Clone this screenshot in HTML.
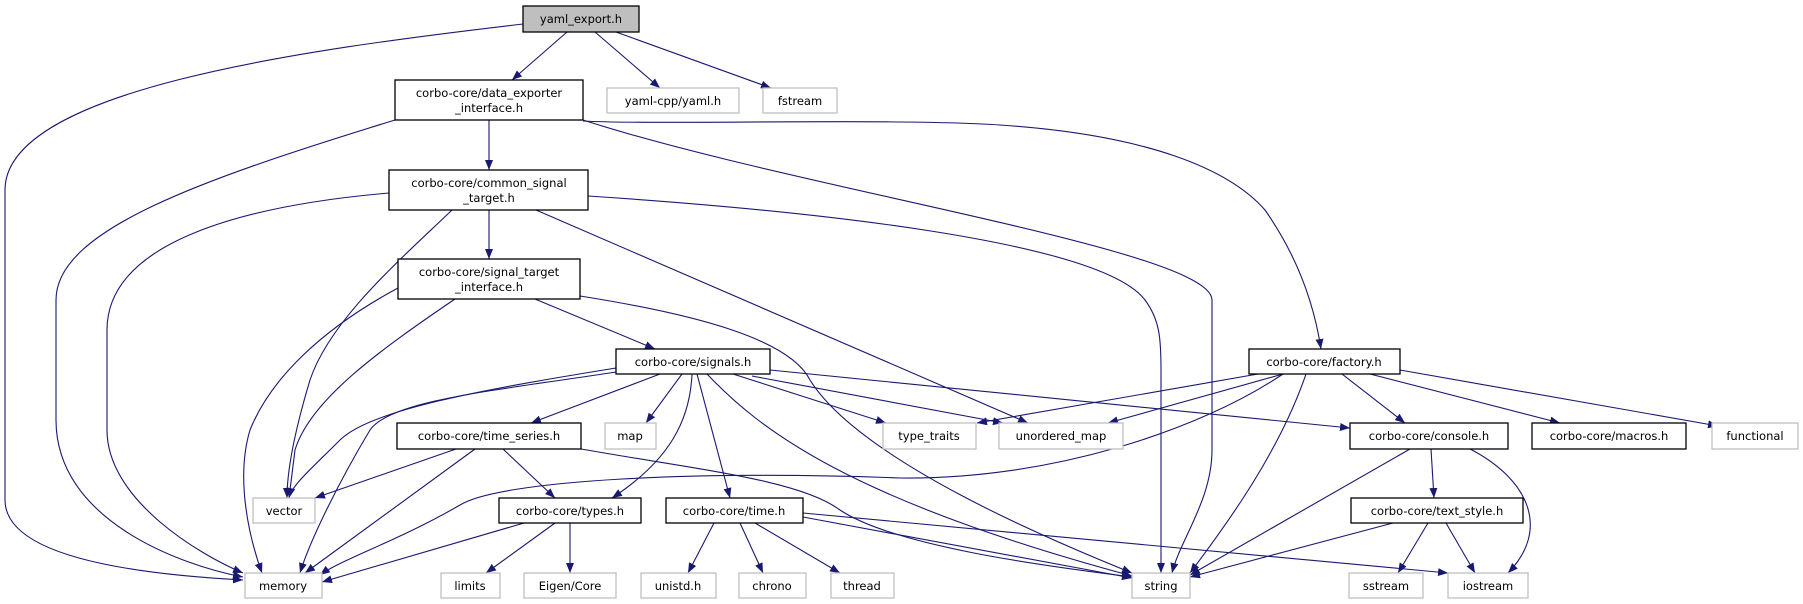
<!DOCTYPE html>
<html><head><meta charset="utf-8"><style>
html,body{margin:0;padding:0;background:#fff;}
svg{display:block;}
text{font-family:"DejaVu Sans","Liberation Sans",sans-serif;font-size:11.5px;fill:#000;text-anchor:middle;}
.n{fill:#fff;stroke:#000;stroke-width:1.3;}
.g{fill:#fff;stroke:#bfbfbf;stroke-width:1.3;}
.e{fill:none;stroke:#191970;stroke-width:1.1;marker-end:url(#a);}
</style></head><body>
<svg width="1803" height="604" viewBox="0 0 1803 604" xmlns="http://www.w3.org/2000/svg">
<defs><marker id="a" viewBox="0 0 10 8" refX="10" refY="4" markerWidth="10" markerHeight="8" markerUnits="userSpaceOnUse" orient="auto"><path d="M0,0 L10,4 L0,8 z" fill="#191970"/></marker></defs>

<!-- edges -->
<path class="e" d="M523,24 C300,50 5,90 5,190 L5,500 C5,560 150,575 243,580"/>
<path class="e" d="M567,32 L512,80"/>
<path class="e" d="M595,32 L660,88"/>
<path class="e" d="M616,32 L771,88"/>
<path class="e" d="M395,120 C200,180 56,230 56,300 L56,420 C56,520 180,565 243,577"/>
<path class="e" d="M489,120 L489,170"/>
<path class="e" d="M583,120 C800,190 1212,250 1212,300 L1212,450 C1212,500 1180,540 1172,573"/>
<path class="e" d="M583,121 C650,125 900,118 1000,125 C1150,135 1230,170 1265,210 C1300,260 1315,310 1321,349"/>
<path class="e" d="M389,193 C250,205 107,240 107,330 L107,430 C107,500 200,555 243,573"/>
<path class="e" d="M452,210 C400,260 330,320 310,380 C295,430 287,470 287,498"/>
<path class="e" d="M489,210 L489,259"/>
<path class="e" d="M536,210 L1028,423"/>
<path class="e" d="M588,196 C800,210 1100,240 1145,300 C1160,320 1161,340 1161,370 L1161,573"/>
<path class="e" d="M398,288 C320,330 270,380 250,430 C235,480 250,540 262,573"/>
<path class="e" d="M455,299 C380,350 310,400 295,450 L289,498"/>
<path class="e" d="M535,299 L655,349"/>
<path class="e" d="M580,296 C700,315 790,340 810,380 C860,460 1050,540 1132,573"/>
<path class="e" d="M616,368 C480,390 370,410 340,440 C310,470 292,485 289,498"/>
<path class="e" d="M616,372 C500,390 390,400 370,430 C340,480 310,540 300,573"/>
<path class="e" d="M660,374 L531,423"/>
<path class="e" d="M682,374 L646,423"/>
<path class="e" d="M692,374 C690,420 670,460 612,498"/>
<path class="e" d="M697,374 L730,498"/>
<path class="e" d="M707,374 C760,430 850,500 1132,576"/>
<path class="e" d="M733,374 L886,423"/>
<path class="e" d="M752,376 L1003,423"/>
<path class="e" d="M770,370 L1350,428"/>
<path class="e" d="M456,449 L315,498"/>
<path class="e" d="M475,449 L305,573"/>
<path class="e" d="M503,449 L555,498"/>
<path class="e" d="M581,449 C700,470 800,480 840,510 C900,550 1080,570 1132,577"/>
<path class="e" d="M1283,374 C1200,430 1050,480 900,478 C700,470 500,480 460,505 C400,540 340,560 320,575"/>
<path class="e" d="M1258,374 L977,423"/>
<path class="e" d="M1283,374 L1108,423"/>
<path class="e" d="M1306,374 C1280,450 1230,520 1190,573"/>
<path class="e" d="M1342,374 L1405,423"/>
<path class="e" d="M1370,374 L1560,423"/>
<path class="e" d="M1400,370 L1718,426"/>
<path class="e" d="M1410,449 L1190,575"/>
<path class="e" d="M1431,449 L1434,498"/>
<path class="e" d="M1470,449 C1530,480 1550,530 1508,573"/>
<path class="e" d="M1393,523 L1190,577"/>
<path class="e" d="M1428,523 L1398,573"/>
<path class="e" d="M1446,523 L1475,573"/>
<path class="e" d="M714,523 L688,573"/>
<path class="e" d="M740,523 L763,573"/>
<path class="e" d="M755,523 L840,573"/>
<path class="e" d="M803,517 L1132,578"/>
<path class="e" d="M803,513 L1448,573"/>
<path class="e" d="M524,523 L322,582"/>
<path class="e" d="M555,523 L486,573"/>
<path class="e" d="M570,523 L570,573"/>

<!-- nodes -->
<rect x="523" y="6" width="116" height="26" fill="#bfbfbf" stroke="#000" stroke-width="1.3"/><text x="581" y="23">yaml_export.h</text>
<rect class="n" x="395" y="80" width="188" height="40"/><text x="489" y="97">corbo-core/data_exporter</text><text x="489" y="112">_interface.h</text>
<rect class="g" x="607" y="88" width="132" height="25"/><text x="673" y="105">yaml-cpp/yaml.h</text>
<rect class="g" x="763" y="88" width="74" height="25"/><text x="800" y="105">fstream</text>
<rect class="n" x="389" y="170" width="199" height="40"/><text x="489" y="187">corbo-core/common_signal</text><text x="489" y="202">_target.h</text>
<rect class="n" x="398" y="259" width="182" height="40"/><text x="489" y="276">corbo-core/signal_target</text><text x="489" y="291">_interface.h</text>
<rect class="n" x="616" y="349" width="154" height="25"/><text x="693" y="366">corbo-core/signals.h</text>
<rect class="n" x="1249" y="349" width="151" height="25"/><text x="1324" y="366">corbo-core/factory.h</text>
<rect class="n" x="397" y="423" width="184" height="26"/><text x="489" y="440">corbo-core/time_series.h</text>
<rect class="g" x="605" y="423" width="51" height="26"/><text x="630" y="440">map</text>
<rect class="g" x="883" y="423" width="93" height="26"/><text x="929" y="440">type_traits</text>
<rect class="g" x="999" y="423" width="124" height="26"/><text x="1061" y="440">unordered_map</text>
<rect class="n" x="1350" y="423" width="158" height="26"/><text x="1429" y="440">corbo-core/console.h</text>
<rect class="n" x="1532" y="423" width="154" height="26"/><text x="1609" y="440">corbo-core/macros.h</text>
<rect class="g" x="1712" y="423" width="86" height="26"/><text x="1755" y="440">functional</text>
<rect class="g" x="253" y="498" width="62" height="25"/><text x="284" y="515">vector</text>
<rect class="n" x="499" y="498" width="142" height="25"/><text x="570" y="515">corbo-core/types.h</text>
<rect class="n" x="666" y="498" width="137" height="25"/><text x="734" y="515">corbo-core/time.h</text>
<rect class="n" x="1351" y="498" width="172" height="25"/><text x="1437" y="515">corbo-core/text_style.h</text>
<rect class="g" x="245" y="573" width="77" height="25"/><text x="283" y="590">memory</text>
<rect class="g" x="441" y="573" width="59" height="25"/><text x="470" y="590">limits</text>
<rect class="g" x="524" y="573" width="92" height="25"/><text x="570" y="590">Eigen/Core</text>
<rect class="g" x="641" y="573" width="75" height="25"/><text x="678" y="590">unistd.h</text>
<rect class="g" x="739" y="573" width="67" height="25"/><text x="772" y="590">chrono</text>
<rect class="g" x="831" y="573" width="63" height="25"/><text x="862" y="590">thread</text>
<rect class="g" x="1132" y="573" width="58" height="25"/><text x="1161" y="590">string</text>
<rect class="g" x="1349" y="573" width="74" height="25"/><text x="1386" y="590">sstream</text>
<rect class="g" x="1448" y="573" width="80" height="25"/><text x="1488" y="590">iostream</text>
</svg>
</body></html>
